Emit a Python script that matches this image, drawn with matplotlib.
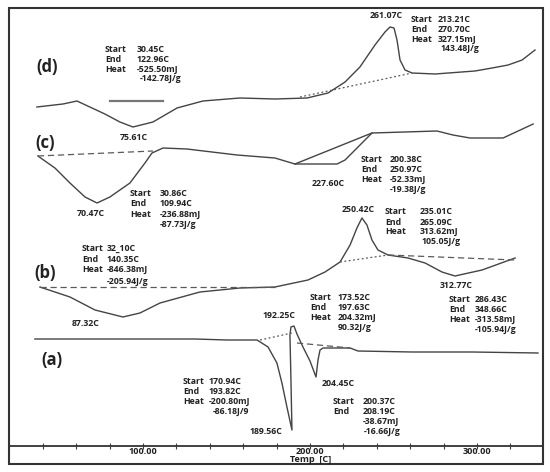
import matplotlib
matplotlib.use("Agg")
import matplotlib.pyplot as plt
from matplotlib.patches import Rectangle
from matplotlib.ticker import MultipleLocator, FuncFormatter

# ---------------- data (temperature in C, heat flow in arbitrary units) ----------------
d_temp = [36.5, 52.1, 60.5, 77.2, 86.2, 94.0, 106.0, 120.4, 135.9, 158.1, 179.0, 198.2, 210.8,
          221.0, 229.9, 238.9, 244.9, 247.9, 250.3, 252.1, 253.9, 256.9, 261.1, 274.9, 298.8,
          309.0, 318.6, 327.0, 334.7]
d_flow = [33.9, 34.2, 34.5, 33.2, 32.4, 31.9, 32.4, 33.8, 34.5, 34.8, 34.7, 34.8, 35.3,
          36.4, 37.9, 40.1, 41.4, 41.9, 41.8, 40.6, 38.6, 37.6, 37.3, 37.2, 37.5,
          37.8, 38.1, 38.6, 39.6]
d_base_temp = [194.0, 261.1]
d_base_flow = [34.9, 37.3]
d_seg_temp = [80.2, 112.0]
d_seg_flow = [34.5, 34.5]

c_temp = [37.1, 47.3, 56.3, 65.3, 72.5, 80.2, 92.2, 101.2, 105.4, 112.0, 126.3, 156.3, 179.0,
          191.0, 216.2, 221.0, 237.1, 276.0, 285.6, 295.8, 315.6, 333.6]
c_flow = [29.0, 27.8, 26.3, 24.9, 24.3, 24.9, 26.3, 28.3, 29.3, 29.8, 29.7, 29.1, 28.8,
          28.2, 28.2, 28.6, 31.3, 31.5, 31.1, 30.8, 30.8, 32.2]
c_base_temp = [37.1, 106.0]
c_base_flow = [29.0, 29.5]
c_tan_temp = [191.0, 237.1]
c_tan_flow = [28.2, 31.3]

b_temp = [38.3, 56.3, 71.3, 88.0, 98.2, 110.2, 134.1, 158.1, 179.0, 198.8, 209.0, 218.0, 224.0,
          228.1, 231.1, 234.1, 237.1, 240.7, 246.7, 258.7, 268.9, 279.0, 286.8, 303.0, 322.8]
b_flow = [15.9, 14.9, 13.6, 12.9, 13.3, 14.3, 15.4, 15.8, 15.9, 16.6, 17.4, 18.4, 20.1,
          21.8, 22.8, 22.1, 20.6, 19.6, 19.1, 18.8, 18.3, 17.4, 17.0, 17.6, 18.8]
b_base1_temp = [38.3, 179.0]
b_base1_flow = [15.9, 15.9]
b_base2_temp = [218.0, 246.7]
b_base2_flow = [18.4, 19.1]
b_base3_temp = [246.7, 322.8]
b_base3_flow = [19.1, 18.6]

a_temp = [35.3, 131.1, 150.3, 168.3, 174.9, 180.2, 183.2, 186.2, 189.2, 188.6, 188.0, 188.6,
          190.4, 192.2, 195.8, 200.0, 203.6, 204.8, 206.0, 207.8, 224.0, 228.7, 261.1, 297.0, 336.5]
a_flow = [10.7, 10.7, 10.6, 10.6, 9.9, 8.3, 6.3, 3.9, 1.6, 6.6, 11.1, 11.9,
          12.0, 11.2, 9.9, 8.5, 6.9, 8.6, 9.6, 9.8, 9.8, 9.5, 9.4, 9.4, 9.3]
a_base1_temp = [170.1, 189.2]
a_base1_flow = [10.6, 11.3]
a_base2_temp = [192.2, 224.0]
a_base2_flow = [10.3, 9.8]

# ---------------- figure ----------------
W, H = 550, 472
fig = plt.figure(figsize=(W / 100, H / 100), dpi=100)
fig.patch.set_facecolor("white")

L, R, T, B = 9, 543, 8, 446
ax = fig.add_axes([L / W, 1 - B / H, (R - L) / W, (B - T) / H])
ax.set_xlim(19.8, 339.5)
ax.set_ylim(0, 43.8)
for s in ["top", "left", "right"]:
    ax.spines[s].set_visible(False)
ax.spines["bottom"].set_color("#333333")
ax.spines["bottom"].set_linewidth(1.3)
ax.set_yticks([])
ax.xaxis.set_major_locator(MultipleLocator(100))
ax.xaxis.set_minor_locator(MultipleLocator(20))
ax.xaxis.set_major_formatter(FuncFormatter(lambda v, p: f"{v:.2f}"))
ax.tick_params(axis="x", which="both", direction="inout", length=4, width=0.8,
               color="#444444", pad=-1, labelsize=6.6, labelcolor="#222222")
for lab in ax.get_xticklabels():
    lab.set_fontweight("bold")
    lab.set_family("Open Sans")

# outer frame
fig.patches.append(Rectangle((L / W, 1 - 464 / H), (R - L) / W, (464 - T) / H,
                             transform=fig.transFigure, fill=False,
                             edgecolor="#333333", linewidth=1.5))

curve_kw = dict(color="#444444", lw=1.0)
base_kw = dict(color="#5a5a5a", lw=0.9, ls=(0, (5, 3)))
dot_kw = dict(color="#5a5a5a", lw=0.9, ls=(0, (1.5, 2)))

ax.plot(d_temp, d_flow, **curve_kw)
ax.plot(d_base_temp, d_base_flow, **dot_kw)
ax.plot(d_seg_temp, d_seg_flow, color="#777777", lw=1.6)

ax.plot(c_temp, c_flow, **curve_kw)
ax.plot(c_base_temp, c_base_flow, **base_kw)
ax.plot(c_tan_temp, c_tan_flow, **curve_kw)

ax.plot(b_temp, b_flow, **curve_kw)
ax.plot(b_base1_temp, b_base1_flow, **base_kw)
ax.plot(b_base2_temp, b_base2_flow, **dot_kw)
ax.plot(b_base3_temp, b_base3_flow, **base_kw)

ax.plot(a_temp, a_flow, **curve_kw)
ax.plot(a_base1_temp, a_base1_flow, **dot_kw)
ax.plot(a_base2_temp, a_base2_flow, **base_kw)

FONT = "Open Sans"
TXT = "#222222"


def put(x, y, s, size=6.3, ha="left", weight="bold"):
    fig.text(x / W, 1 - y / H, s, ha=ha, va="center", fontsize=size,
             fontweight=weight, family=FONT, color=TXT)


def block(x1, x2, y0, lines, dy=9.6, lastx=None):
    for i, (k, v) in enumerate(lines):
        y = y0 + i * dy
        if k:
            put(x1, y, k)
        if v:
            put(x2 if (i < 3 or lastx is None) else lastx, y, v)


# panel labels
put(47, 67, "(d)", size=12, ha="center")
put(45, 143, "(c)", size=12, ha="center")
put(45, 273, "(b)", size=12, ha="center")
put(52, 360, "(a)", size=12, ha="center")

# (d)
block(105, 137, 50, [("Start", "30.45C"), ("End", "122.96C"), ("Heat", "-525.50mJ"),
                     ("", "-142.78J/g")], lastx=140)
put(120, 137, "75.61C")
put(370, 16, "261.07C")
block(411, 438, 20, [("Start", "213.21C"), ("End", "270.70C"), ("Heat", "327.15mJ"),
                     ("", "143.48J/g")], lastx=441)

# (c)
put(77, 214, "70.47C")
block(130, 160, 193, [("Start", "30.86C"), ("End", "109.94C"), ("Heat", "-236.88mJ"),
                      ("", "-87.73J/g")], dy=10.6)
put(312, 183, "227.60C")
block(361, 390, 160, [("Start", "200.38C"), ("End", "250.97C"), ("Heat", "-52.33mJ"),
                      ("", "-19.38J/g")], dy=10)

# (b)
block(82, 107, 248, [("Start", "32_10C"), ("End", "140.35C"), ("Heat", "-846.38mJ"),
                     ("", "-205.94J/g")], dy=11)
put(72, 323, "87.32C")
put(342, 210, "250.42C")
block(385, 420, 212, [("Start", "235.01C"), ("End", "265.09C"), ("Heat", "313.62mJ"),
                      ("", "105.05J/g")], dy=10, lastx=422)
put(440, 286, "312.77C")
block(449, 475, 300, [("Start", "286.43C"), ("End", "348.66C"), ("Heat", "-313.58mJ"),
                      ("", "-105.94J/g")], dy=10)
block(310, 338, 297, [("Start", "173.52C"), ("End", "197.63C"), ("Heat", "204.32mJ"),
                      ("", "90.32J/g")], dy=10)

# (a)
put(263, 316, "192.25C")
put(322, 383, "204.45C")
put(250, 431, "189.56C")
block(183, 209, 382, [("Start", "170.94C"), ("End", "193.82C"), ("Heat", "-200.80mJ"),
                      ("", "-86.18J/9")], dy=10, lastx=213)
block(333, 363, 401, [("Start", "200.37C"), ("End", "208.19C"), ("", "-38.67mJ"),
                      ("", "-16.66J/g")], dy=10, lastx=364)

# axis title
put(290, 460, "Temp  [C]", size=6.6)

fig.savefig("out.png", dpi=100, facecolor="white")
